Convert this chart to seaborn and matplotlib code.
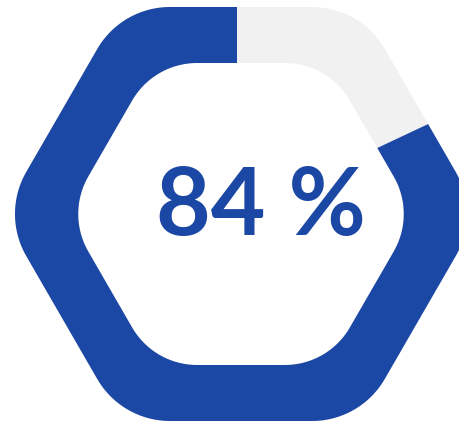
import numpy as np
import matplotlib
matplotlib.use("Agg")
import matplotlib.pyplot as plt
from matplotlib.path import Path
from matplotlib.patches import PathPatch, Wedge
import seaborn as sns

# Data
value = 84            # number shown in the middle
filled_share = 0.82   # part of the ring painted blue
colors = ["#1c48a5", "#f1f1f1"]  # filled, remaining

sns.set_theme(style="white")
plt.rcParams["font.family"] = ["Lato", "DejaVu Sans"]


def rounded_hexagon(cx, cy, a, r, n=24):
    # hexagon with points left/right, half height a, corner radius r
    d = (a - r) / np.cos(np.pi / 6)
    pts = []
    for k in range(6):
        ang = np.radians(60 * k)
        ccx, ccy = cx + d * np.cos(ang), cy + d * np.sin(ang)
        t = np.linspace(ang - np.pi / 6, ang + np.pi / 6, n)
        pts.append(np.column_stack([ccx + r * np.cos(t), ccy + r * np.sin(t)]))
    return np.vstack(pts)


def ring_path(outer, inner):
    inner = inner[::-1]
    verts = np.vstack([outer, outer[:1], inner, inner[:1]])
    codes = ([Path.MOVETO] + [Path.LINETO] * (len(outer) - 1) + [Path.CLOSEPOLY]
             + [Path.MOVETO] + [Path.LINETO] * (len(inner) - 1) + [Path.CLOSEPOLY])
    return Path(verts, codes)


fig = plt.figure(figsize=(4.59, 4.22), dpi=100)
ax = fig.add_axes([0, 0, 1, 1])
ax.set_xlim(0, 459)
ax.set_ylim(0, 422)
ax.set_aspect("equal")
ax.axis("off")

outer = rounded_hexagon(241, 208, 207, 84)
inner = rounded_hexagon(241, 208, 151, 75)
ring = ring_path(outer, inner)

# background ring
ax.add_patch(PathPatch(ring, facecolor=colors[1], edgecolor="none"))

# filled part, clockwise gap from the top
blue = PathPatch(ring, facecolor=colors[0], edgecolor="none")
ax.add_patch(blue)
wedge = Wedge((237, 208), 400, 90, 90 + 360 * filled_share, transform=ax.transData)
blue.set_clip_path(wedge)

ax.text(261, 187, "{} %".format(value), ha="center", va="baseline",
        fontsize=68, fontweight="bold", color=colors[0])

plt.savefig("out.png", dpi=100)
